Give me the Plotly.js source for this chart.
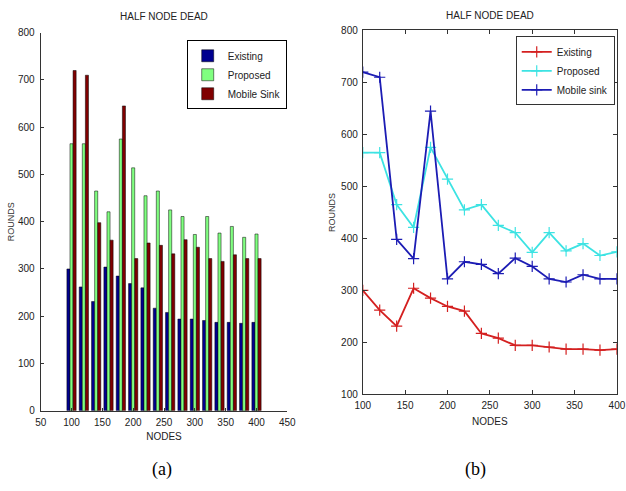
<!DOCTYPE html>
<html><head><meta charset="utf-8">
<script src="https://cdn.plot.ly/plotly-3.0.1.min.js"></script>
<style>html,body{margin:0;padding:0;background:#fff}#chart{width:626px;height:491px}</style>
</head><body><div id="chart"></div>
<script>
const nodes = [100,120,140,160,180,200,220,240,260,280,300,320,340,360,380,400];
const existing = [300,262,231,304,285,269,260,217,208,194,194,191,187,187,185,187];
const proposed = [565,565,465,421,575,514,455,465,425,411,373,411,376,390,367,374];
const mobileSink = [720,710,398,361,645,322,355,350,332,362,346,322,316,330,322,322];

const narrow = "Liberation Sans Narrow, Arial Narrow, Liberation Sans, sans-serif";
const tickFont = {family: narrow, size: 10, color: '#222'};

const traces = [
  {type:'bar', x:nodes, y:existing, name:'Existing', xaxis:'x', yaxis:'y', legend:'legend',
   marker:{color:'#00008f', line:{color:'#000', width:0.5}}},
  {type:'bar', x:nodes, y:proposed, name:'Proposed', xaxis:'x', yaxis:'y', legend:'legend',
   marker:{color:'#80ff80', line:{color:'#000', width:0.5}}},
  {type:'bar', x:nodes, y:mobileSink, name:'Mobile Sink', xaxis:'x', yaxis:'y', legend:'legend',
   marker:{color:'#800000', line:{color:'#000', width:0.5}}},
  {type:'scatter', mode:'lines+markers', x:nodes, y:existing, name:'Existing', xaxis:'x2', yaxis:'y2', legend:'legend2',
   line:{color:'#d42020', width:1.8}, marker:{symbol:'cross-thin', size:8, line:{color:'#d42020', width:1.2}}},
  {type:'scatter', mode:'lines+markers', x:nodes, y:proposed, name:'Proposed', xaxis:'x2', yaxis:'y2', legend:'legend2',
   line:{color:'#3de3e3', width:1.8}, marker:{symbol:'cross-thin', size:8, line:{color:'#3de3e3', width:1.2}}},
  {type:'scatter', mode:'lines+markers', x:nodes, y:mobileSink, name:'Mobile sink', xaxis:'x2', yaxis:'y2', legend:'legend2',
   line:{color:'#1c1cb4', width:1.8}, marker:{symbol:'cross-thin', size:8, line:{color:'#1c1cb4', width:1.2}}}
];

const layout = {
  width:626, height:491, margin:{l:0,r:0,t:0,b:0},
  paper_bgcolor:'#fff', plot_bgcolor:'#fff',
  barmode:'group', bargap:0.25, bargroupgap:0,
  showlegend:true,
  font:{family:narrow, size:10, color:'#222'},
  xaxis:{domain:[0.065,0.459], range:[50,450], tickvals:[50,100,150,200,250,300,350,400,450],
    showgrid:false, zeroline:false, showline:true, linecolor:'#333', linewidth:1,
    ticks:'inside', ticklen:3, tickcolor:'#333', tickfont:tickFont, ticklabelstandoff:2,
    title:{text:'NODES', font:{family:narrow, size:10, color:'#222'}, standoff:6}},
  yaxis:{domain:[0.1635,0.9334], range:[0,800], dtick:100, anchor:'x',
    showgrid:false, zeroline:false, showline:true, linecolor:'#333', linewidth:1,
    ticks:'inside', ticklen:3, tickcolor:'#333', tickfont:tickFont, ticklabelstandoff:3,
    title:{text:'ROUNDS', font:{family:'Liberation Sans, sans-serif', size:9, color:'#333'}, standoff:1}},
  xaxis2:{domain:[0.5795,0.9855], range:[100,400], dtick:50, anchor:'y2',
    showgrid:false, zeroline:false, showline:true, mirror:'ticks', linecolor:'#333', linewidth:1,
    ticks:'inside', ticklen:4, tickcolor:'#333', tickfont:tickFont, ticklabelstandoff:2,
    title:{text:'NODES', font:{family:narrow, size:10, color:'#222'}, standoff:7}},
  yaxis2:{domain:[0.197,0.9379], range:[100,800], dtick:100, anchor:'x2',
    showgrid:false, zeroline:false, showline:true, mirror:'ticks', linecolor:'#333', linewidth:1,
    ticks:'inside', ticklen:4, tickcolor:'#333', tickfont:tickFont, ticklabelstandoff:2,
    title:{text:'ROUNDS', font:{family:'Liberation Sans, sans-serif', size:9, color:'#333'}, standoff:3}},
  legend:{x:0.458, y:0.918, xanchor:'right', yanchor:'top', bgcolor:'#fff', bordercolor:'#000', borderwidth:1,
    font:{family:narrow, size:10, color:'#222'}, tracegroupgap:0, itemwidth:30},
  legend2:{x:0.982, y:0.926, xanchor:'right', yanchor:'top', bgcolor:'#fff', bordercolor:'#333', borderwidth:1,
    font:{family:narrow, size:10, color:'#222'}, tracegroupgap:0, itemwidth:30},
  annotations:[
    {text:'HALF NODE DEAD', xref:'paper', yref:'paper', x:0.262, y:0.967, xanchor:'center', yanchor:'middle', showarrow:false,
     font:{family:narrow, size:10, color:'#222'}},
    {text:'HALF NODE DEAD', xref:'paper', yref:'paper', x:0.782, y:0.969, xanchor:'center', yanchor:'middle', showarrow:false,
     font:{family:narrow, size:10, color:'#222'}},
    {text:'(a)', xref:'paper', yref:'paper', x:0.259, y:0.043, xanchor:'center', yanchor:'middle', showarrow:false,
     font:{family:'Liberation Serif, Times New Roman, serif', size:18, color:'#000'}},
    {text:'(b)', xref:'paper', yref:'paper', x:0.759, y:0.043, xanchor:'center', yanchor:'middle', showarrow:false,
     font:{family:'Liberation Serif, Times New Roman, serif', size:18, color:'#000'}}
  ]
};

Plotly.newPlot('chart', traces, layout, {displayModeBar:false, staticPlot:true});
</script></body></html>
